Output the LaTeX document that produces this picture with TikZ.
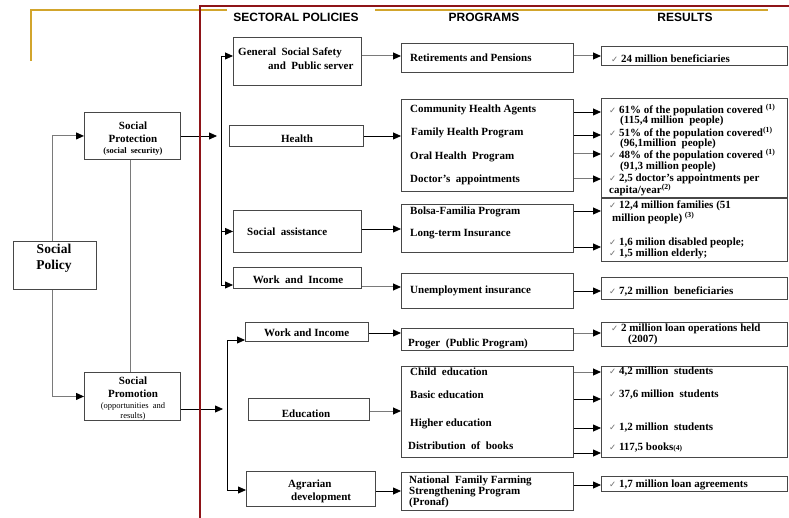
\documentclass[tikz,border=0pt]{standalone}
\usepackage{fontspec}
\setmainfont{Liberation Serif}
\newfontfamily\headfont{Liberation Sans}
\newfontfamily\checkfont{DejaVu Sans}
\usetikzlibrary{arrows.meta}
\definecolor{frameRed}{HTML}{8E1418}
\definecolor{frameGold}{HTML}{D2A52C}
\definecolor{boxc}{HTML}{474747}
\definecolor{linegray}{HTML}{7A7A7A}
\definecolor{checkc}{HTML}{6E6E6E}
\newcommand\chk{{\color{checkc}\checkfont\fontsize{8.5}{9}\selectfont ✓}}
\newcommand\mkbox[5]{\node[box, anchor=north west, minimum width={(#4-#2)*1pt}, minimum height={(#5-#3)*1pt}] (#1) at (#2,#3) {};}
\tikzset{
  box/.style={draw=boxc, line width=0.9pt, fill=white, inner sep=0pt},
  lbl/.style={inner sep=0pt, anchor=west, font=\bfseries\fontsize{11}{12}\selectfont},
  ctr/.style={inner sep=0pt, anchor=center, font=\bfseries\fontsize{11}{12}\selectfont},
  big/.style={inner sep=0pt, anchor=center, font=\bfseries\fontsize{13.5}{15}\selectfont},
  small/.style={inner sep=0pt, anchor=center, font=\bfseries\fontsize{8.5}{9}\selectfont},
  smalllight/.style={inner sep=0pt, anchor=center, font=\fontsize{8.5}{9}\selectfont},
  hdr/.style={inner sep=0pt, anchor=center, font=\headfont\bfseries\fontsize{12}{14}\selectfont},
  ln/.style={draw=black, line width=0.8pt},
  gln/.style={draw=linegray, line width=1pt},
  arr/.style={ln, -{Triangle[length=8pt,width=7pt]}},
  garr/.style={gln, -{Triangle[length=8pt,width=7pt,color=black]}},
}
\begin{document}
\begin{tikzpicture}[x=1pt,y=-1pt]
\useasboundingbox (0,0) rectangle (789,518);
\fill[white] (0,0) rectangle (789,518);

% gold frame line
\draw[frameGold, line width=1.8pt] (31,61) -- (31,10) -- (227,10);
\draw[frameGold, line width=1.8pt] (375,10) -- (768,10);

% column headers
\node[hdr] (hsec) at (296,17) {SECTORAL POLICIES};
\node[hdr] (hprog) at (484,17) {PROGRAMS};
\node[hdr] (hres) at (685,17) {RESULTS};

% left hierarchy boxes
\mkbox{sp}{13}{241}{96}{289}
\mkbox{spr}{84}{112}{180}{159}
\mkbox{spm}{84}{372}{180}{420}

% sectoral policy boxes
\mkbox{gss}{233}{37}{361}{85}
\mkbox{hlt}{229}{125}{363}{146}
\mkbox{sas}{233}{210}{361}{252}
\mkbox{wia}{233}{267}{361}{288}
\mkbox{wib}{245}{322}{368}{341}
\mkbox{edu}{248}{398}{369}{420}
\mkbox{agr}{246}{471}{375}{506}

% program boxes
\mkbox{pa}{401}{43}{573}{72}
\mkbox{pb}{401}{99}{573}{191}
\mkbox{pc}{401}{204}{573}{252}
\mkbox{pd}{401}{273}{573}{308}
\mkbox{pe}{401}{328}{573}{350}
\mkbox{pf}{401}{366}{573}{457}
\mkbox{pg}{401}{472}{573}{510}

% result boxes
\mkbox{ra}{601}{46}{787}{65}
\mkbox{rb}{601}{98}{787}{197}
\mkbox{rc}{601}{198}{787}{261}
\mkbox{rd}{601}{277}{787}{299}
\mkbox{re}{601}{322}{787}{346}
\mkbox{rf}{601}{366}{787}{457}
\mkbox{rg}{601}{476}{787}{491}

% social policy branches
\draw[garr] ([xshift=-2.5pt]sp.north) |- (spr.west);
\draw[garr] ([xshift=-2.5pt]sp.south) |- (spm.west);
\draw[gln] ([xshift=-2pt]spr.south) -- ([xshift=-2pt]spm.north);

% social protection trunk
\coordinate (pt) at (217,136);
\coordinate (ta) at (221,56);
\coordinate (tb) at (221,285);
\draw[arr] (spr.east |- pt) -- (pt);
\draw[ln] (ta) -- (tb);
\draw[arr] (ta) -- (gss.west |- ta);
\draw[arr] (sas.west -| ta) -- (sas.west);
\draw[arr] (tb) -- (wia.west |- tb);

% social promotion trunk
\coordinate (mt) at (223,409);
\coordinate (tc) at (227,340);
\coordinate (td) at (227,490);
\draw[arr] (spm.east |- mt) -- (mt);
\draw[ln] (tc) -- (td);
\draw[arr] (tc) -- (wib.west |- tc);
\draw[arr] (td) -- (agr.west |- td);

% sectoral policies to programs
\draw[garr] (gss.east |- 0,56) -- (pa.west |- 0,56);
\draw[arr] (hlt.east |- 0,136) -- (pb.west |- 0,136);
\draw[arr] (sas.east |- 0,229) -- (pc.west |- 0,229);
\draw[garr] (wia.east |- 0,287) -- (pd.west |- 0,287);
\draw[arr] (wib.east |- 0,333) -- (pe.west |- 0,333);
\draw[garr] (edu.east |- 0,411) -- (pf.west |- 0,411);
\draw[arr] (agr.east |- 0,491) -- (pg.west |- 0,491);

% programs to results
\draw[garr] (pa.east |- 0,56) -- (ra.west |- 0,56);
\draw[arr] (pb.east |- 0,112) -- (rb.west |- 0,112);
\draw[arr] (pb.east |- 0,135) -- (rb.west |- 0,135);
\draw[garr] (pb.east |- 0,154) -- (rb.west |- 0,154);
\draw[garr] (pb.east |- 0,179) -- (rb.west |- 0,179);
\draw[arr] (pc.east |- 0,211) -- (rc.west |- 0,211);
\draw[arr] (pc.east |- 0,247) -- (rc.west |- 0,247);
\draw[arr] (pd.east |- 0,291) -- (rd.west |- 0,291);
\draw[garr] (pe.east |- 0,333) -- (re.west |- 0,333);
\draw[garr] (pf.east |- 0,372) -- (rf.west |- 0,372);
\draw[arr] (pf.east |- 0,399) -- (rf.west |- 0,399);
\draw[arr] (pf.east |- 0,428) -- (rf.west |- 0,428);
\draw[arr] (pf.east |- 0,453) -- (rf.west |- 0,453);
\draw[arr] (pg.east |- 0,485) -- (rg.west |- 0,485);

% red frame line
\draw[frameRed, line width=2.2pt] (200,518) -- (200,6) -- (789,6);

% left hierarchy texts
\node[big] (tsp1) at (54,249) {Social};
\node[big] (tsp2) at (54,266) {Policy};
\node[ctr] (tpr1) at (133,126) {Social};
\node[ctr] (tpr2) at (133,139) {Protection};
\node[small] (tpr3) at (133,151) {(social\ \ security)};
\node[ctr] (tpm1) at (133,381) {Social};
\node[ctr] (tpm2) at (133,394) {Promotion};
\node[smalllight] (tpm3) at (133,406) {(opportunities\ \ and};
\node[smalllight] (tpm4) at (133,416) {results)};

% sectoral policy texts
\node[lbl] (tg1) at (238,53) {General\ \ Social Safety};
\node[lbl] (tg2) at (268,66) {and\ \ Public server};
\node[ctr] (th) at (297,139) {Health};
\node[lbl] (tsa) at (247,232) {Social\ \ assistance};
\node[ctr] (tw1) at (298,280) {Work\ \ and\ \ Income};
\node[lbl] (tw2) at (264,333) {Work and Income};
\node[ctr] (ted) at (306,414) {Education};
\node[lbl] (tag1) at (288,485) {Agrarian};
\node[lbl] (tag2) at (291,498) {development};

% program texts
\node[lbl] (q1) at (410,58) {Retirements and Pensions};
\node[lbl] (q2) at (410,110) {Community Health Agents};
\node[lbl] (q3) at (411,133) {Family Health Program};
\node[lbl] (q4) at (410,157) {Oral Health\ \ Program};
\node[lbl] (q5) at (410,180) {Doctor's\ \ appointments};
\node[lbl] (q6) at (410,212) {Bolsa-Familia Program};
\node[lbl] (q7) at (410,234) {Long-term Insurance};
\node[lbl] (q8) at (410,291) {Unemployment insurance};
\node[lbl] (q9) at (408,344) {Proger\ \ (Public Program)};
\node[lbl] (q10) at (410,372) {Child\ \ education};
\node[lbl] (q11) at (410,395) {Basic education};
\node[lbl] (q12) at (410,424) {Higher education};
\node[lbl] (q13) at (408,446) {Distribution\ \ of\ \ books};
\node[lbl] (q14) at (409,481) {National\ \ Family Farming};
\node[lbl] (q15) at (409,492) {Strengthening Program};
\node[lbl] (q16) at (409,503) {(Pronaf)};

% result texts
\node[lbl] (s1) at (611,59) {\chk\ 24 million beneficiaries};
\node[lbl] (s2) at (609,110) {\chk\ 61\% of the population covered \textsuperscript{(1)}};
\node[lbl] (s3) at (620,121) {(115,4 million\ \ people)};
\node[lbl] (s4) at (609,133) {\chk\ 51\% of the population covered\textsuperscript{(1)}};
\node[lbl] (s5) at (620,144) {(96,1million\ \ people)};
\node[lbl] (s6) at (609,155) {\chk\ 48\% of the population covered \textsuperscript{(1)}};
\node[lbl] (s7) at (620,167) {(91,3 million people)};
\node[lbl] (s8) at (609,179) {\chk\ 2,5 doctor's appointments per};
\node[lbl] (s9) at (609,190) {capita/year\textsuperscript{(2)}};
\node[lbl] (s10) at (609,206) {\chk\ 12,4 million families (51};
\node[lbl] (s11) at (612,218) {million people) \textsuperscript{(3)}};
\node[lbl] (s12) at (609,243) {\chk\ 1,6 milion disabled people;};
\node[lbl] (s13) at (609,254) {\chk\ 1,5 million elderly;};
\node[lbl] (s14) at (609,291) {\chk\ 7,2 million\ \ beneficiaries};
\node[lbl] (s15) at (611,329) {\chk\ 2 million loan operations held};
\node[lbl] (s16) at (628,340) {(2007)};
\node[lbl] (s17) at (609,372) {\chk\ 4,2 million\ \ students};
\node[lbl] (s18) at (609,395) {\chk\ 37,6 million\ \ students};
\node[lbl] (s19) at (609,428) {\chk\ 1,2 million\ \ students};
\node[lbl] (s20) at (609,448) {\chk\ 117,5 books{\fontsize{7.5}{9}\selectfont(4)}};
\node[lbl] (s21) at (609,485) {\chk\ 1,7 million loan agreements};
\end{tikzpicture}
\end{document}
